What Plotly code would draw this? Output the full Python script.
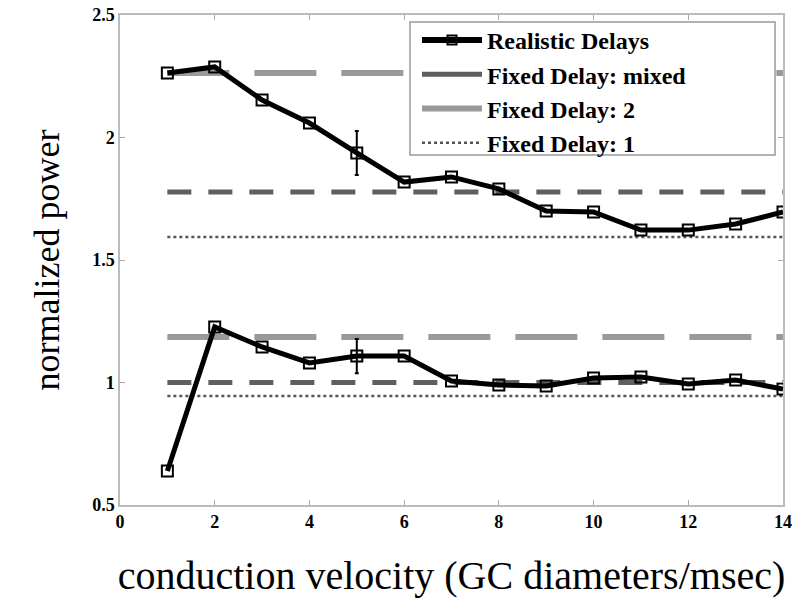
import plotly.graph_objects as go

velocity = [1, 2, 3, 4, 5, 6, 7, 8, 9, 10, 11, 12, 13, 14]
realistic_upper = [2.263, 2.288, 2.153, 2.059, 1.937, 1.818, 1.839, 1.79, 1.70, 1.696, 1.622, 1.622, 1.647, 1.696]
realistic_lower = [0.639, 1.227, 1.145, 1.08, 1.108, 1.108, 1.006, 0.99, 0.986, 1.018, 1.022, 0.994, 1.01, 0.973]
err_x = [5]
err_upper = [0.09]
err_lower = [0.07]
fixed_mixed = [1.778, 1.0]
fixed_2 = [2.263, 1.186]
fixed_1 = [1.594, 0.945]
x_span = [1, 14]

FONT = "Liberation Serif, Times New Roman, serif"
fig = go.Figure()

for m, t, o in zip(fixed_mixed, fixed_2, fixed_1):
    fig.add_trace(go.Scatter(x=x_span, y=[t, t], mode="lines",
                             line=dict(color="#9a9a9a", width=6, dash="62px,25px"),
                             name="Fixed Delay: 2", showlegend=False))
    fig.add_trace(go.Scatter(x=x_span, y=[m, m], mode="lines",
                             line=dict(color="#5f5f5f", width=5, dash="24px,17px"),
                             name="Fixed Delay: mixed", showlegend=False))
    fig.add_trace(go.Scatter(x=x_span, y=[o, o], mode="lines",
                             line=dict(color="#555555", width=2.5, dash="dot"),
                             name="Fixed Delay: 1", showlegend=False))

for ys, e in ((realistic_upper, err_upper), (realistic_lower, err_lower)):
    fig.add_trace(go.Scatter(x=velocity, y=ys, mode="lines+markers",
                             line=dict(color="black", width=5),
                             marker=dict(symbol="square-open", size=11, color="black",
                                         line=dict(width=2, color="black")),
                             showlegend=False))
    ey = [ys[velocity.index(xx)] for xx in err_x]
    fig.add_trace(go.Scatter(x=err_x, y=ey, mode="markers",
                             marker=dict(size=1, color="rgba(0,0,0,0)"),
                             error_y=dict(type="data", array=e, color="black", thickness=2, width=2),
                             showlegend=False, hoverinfo="skip"))

fig.add_trace(go.Scatter(x=[None], y=[None], mode="lines+markers", name="Realistic Delays",
                         line=dict(color="black", width=6),
                         marker=dict(symbol="square-open", size=9, color="black", line=dict(width=2))))
fig.add_trace(go.Scatter(x=[None], y=[None], mode="lines", name="Fixed Delay: mixed",
                         line=dict(color="#5f5f5f", width=5)))
fig.add_trace(go.Scatter(x=[None], y=[None], mode="lines", name="Fixed Delay: 2",
                         line=dict(color="#9a9a9a", width=6)))
fig.add_trace(go.Scatter(x=[None], y=[None], mode="lines", name="Fixed Delay: 1",
                         line=dict(color="#555555", width=2.5, dash="dot")))

fig.update_layout(
    width=800, height=614,
    margin=dict(l=120, r=17, t=15, b=109, autoexpand=False),
    plot_bgcolor="white", paper_bgcolor="white",
    font=dict(family=FONT, color="black"),
    showlegend=True,
    legend=dict(x=(417 - 120) / 663, y=1 - (18 - 15) / 490, xanchor="left", yanchor="top",
                bgcolor="rgba(0,0,0,0)", borderwidth=0,
                font=dict(family=FONT, size=24, color="black", weight="bold"),
                tracegroupgap=0, itemwidth=60),
    shapes=[dict(type="rect", xref="paper", yref="paper",
                 x0=(410 - 120) / 663, x1=(775 - 120) / 663,
                 y0=1 - (155 - 15) / 490, y1=1 - (22 - 15) / 490,
                 line=dict(color="#999999", width=1.5), fillcolor="white", layer="above")],
)
fig.update_xaxes(range=[0, 14], tickvals=[0, 2, 4, 6, 8, 10, 12, 14],
                 ticks="inside", ticklen=5, tickcolor="#aaaaaa",
                 showline=True, linecolor="#bbbbbb", linewidth=1.5, mirror="ticks",
                 showgrid=False, zeroline=False, automargin=False,
                 tickfont=dict(family=FONT, size=18, weight="bold"),
                 title=dict(text="conduction velocity (GC diameters/msec)",
                            font=dict(family=FONT, size=40), standoff=30))
fig.update_yaxes(range=[0.5, 2.5], tickvals=[0.5, 1, 1.5, 2, 2.5],
                 ticktext=["0.5", "1", "1.5", "2", "2.5"],
                 ticks="inside", ticklen=5, tickcolor="#aaaaaa",
                 showline=True, linecolor="#bbbbbb", linewidth=1.5, mirror="ticks",
                 showgrid=False, zeroline=False, automargin=False,
                 tickfont=dict(family=FONT, size=18, weight="bold"),
                 title=dict(text="normalized power", font=dict(family=FONT, size=36), standoff=22))

fig.write_html("out.html", config={"displayModeBar": False},
               post_script="document.body.style.margin='0';")
